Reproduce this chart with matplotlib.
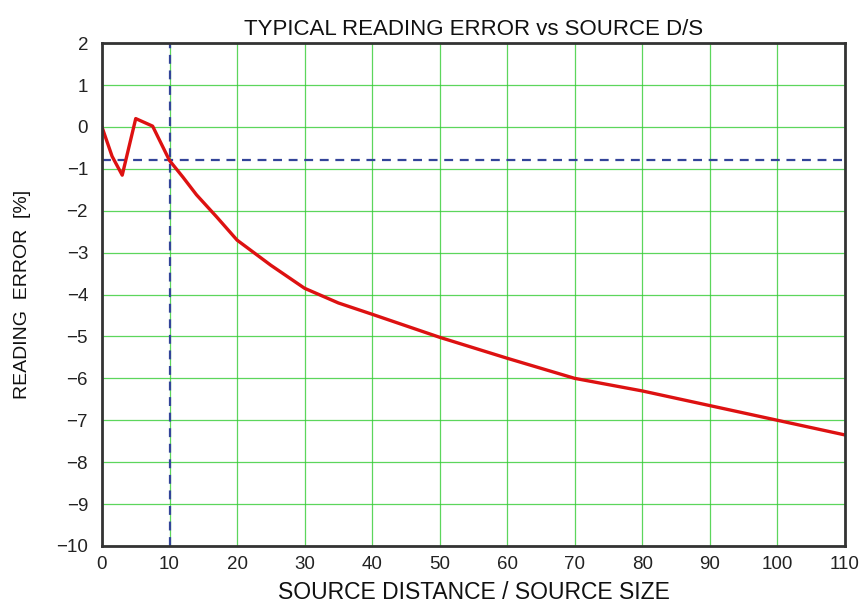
import numpy as np
from matplotlib import pyplot as plt

plt.rcParams['font.family'] = ['Liberation Sans', 'DejaVu Sans']

# reading error curve
ds = [0, 1.5, 3, 5, 7.5, 10, 12, 14, 17, 20, 25, 30, 35, 40, 50, 60, 70, 80, 90, 100, 110]
err = [0.0, -0.7, -1.15, 0.2, 0.02, -0.8, -1.2, -1.62, -2.15, -2.7, -3.3, -3.85, -4.2, -4.47,
       -5.02, -5.52, -6.0, -6.3, -6.65, -7.0, -7.35]

ref_ds = 10
ref_err = -0.8

xticks = [0, 10, 20, 30, 40, 50, 60, 70, 80, 90, 100, 110]
yticks = [2, 1, 0, -1, -2, -3, -4, -5, -6, -7, -8, -9, -10]

fig = plt.figure(figsize=(8.67, 6.08), dpi=100)
ax = fig.add_axes([0.1176, 0.102, 0.857, 0.827])

ax.grid(True, color='#33cc33', lw=0.9, alpha=0.8)
ax.set_axisbelow(True)
ax.axvline(ref_ds, color='#334499', ls=(0, (4, 3)), lw=1.6)
ax.axhline(ref_err, color='#334499', ls=(0, (4, 3)), lw=1.6)
ax.plot(ds, err, color='#dd1111', lw=2.4)

ax.set_xlim(0, 110)
ax.set_ylim(-10, 2)
ax.set_xticks(xticks)
ax.set_yticks(yticks)
ax.set_yticklabels([str(v).replace('-', '\u2212') for v in yticks])
ax.tick_params(length=0, labelsize=13.5, colors='#222222')
ax.tick_params(axis='y', pad=10)
ax.tick_params(axis='x', pad=7)
for s in ax.spines.values():
    s.set_color('#333333')
    s.set_linewidth(2)

ax.set_title('TYPICAL READING ERROR vs SOURCE D/S', fontsize=16, pad=6, color='#111111')
ax.set_xlabel('SOURCE DISTANCE / SOURCE SIZE', fontsize=16.5, labelpad=6, color='#111111')
ax.set_ylabel('READING  ERROR  [%]', fontsize=14, labelpad=18, color='#111111')

plt.savefig('out.png', dpi=100)
